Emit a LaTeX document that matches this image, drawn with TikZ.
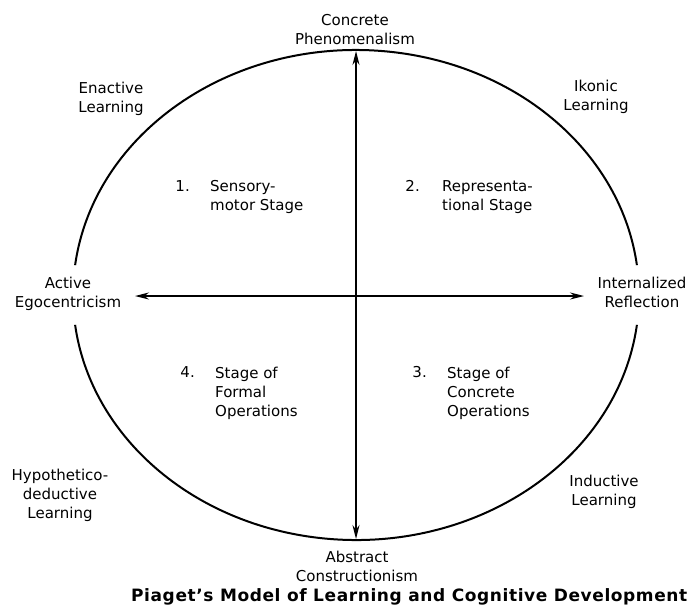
\documentclass[tikz,border=0pt]{standalone}
\usepackage{fontspec}
\setmainfont{DejaVu Sans}
\newfontfamily\captfont[LetterSpace=3.5]{DejaVu Sans}
\usetikzlibrary{arrows.meta}

\begin{document}
\begin{tikzpicture}[x=1pt,y=-1pt,
    lbl/.style={inner sep=0pt,align=center,font=\fontsize{15}{19}\selectfont},
    stg/.style={lbl,align=left,anchor=west},
    num/.style={lbl,anchor=north east},
    axis/.style={line width=1.4pt,{Stealth[length=14pt,width=7pt]}-{Stealth[length=14pt,width=7pt]}}]
  \useasboundingbox (0,0) rectangle (692,608);
  \draw[line width=2pt] (356,295) ++(7:283 and 245) arc[start angle=7,end angle=173,x radius=283,y radius=245];
  \draw[line width=2pt] (356,295) ++(187:283 and 245) arc[start angle=187,end angle=353,x radius=283,y radius=245];
  \coordinate (pN) at (356,51);
  \coordinate (pS) at (356,539);
  \coordinate (pW) at (135,296);
  \coordinate (pE) at (584,296);
  \draw[axis] (pS) -- (pN);
  \draw[axis] (pW) -- (pE);
  \node[lbl] (conc) at (355,30) {Concrete\\Phenomenalism};
  \node[lbl] (abst) at (357,566) {Abstract\\Constructionism};
  \node[lbl] (actv) at (68,294) {Active\\Egocentricism};
  \node[lbl] (intr) at (642,292) {Internalized\\Reflection};
  \node[lbl] (enac) at (111,99) {Enactive\\Learning};
  \node[lbl] (ikon) at (596,97) {Ikonic\\Learning};
  \node[lbl] (hypo) at (60,495) {Hypothetico-\\deductive\\Learning};
  \node[lbl] (indu) at (604,492) {Inductive\\Learning};
  \node[stg] (st1) at (210,197) {Sensory-\\motor Stage};
  \node[stg] (st2) at (442,197) {Representa-\\tional Stage};
  \node[stg] (st3) at (447,393) {Stage of\\Concrete\\Operations};
  \node[stg] (st4) at (215,393) {Stage of\\Formal\\Operations};
  \node[num] (n1) at ([xshift=-20pt]st1.north west) {1.};
  \node[num] (n2) at ([xshift=-22pt]st2.north west) {2.};
  \node[num] (n3) at ([xshift=-20pt]st3.north west) {3.};
  \node[num] (n4) at ([xshift=-20pt]st4.north west) {4.};
  \node[inner sep=0pt,anchor=base west,font=\captfont\fontsize{17}{20}\bfseries\selectfont] (capt) at (131,601) {Piaget’s Model of Learning and Cognitive Development};
\end{tikzpicture}
\end{document}
